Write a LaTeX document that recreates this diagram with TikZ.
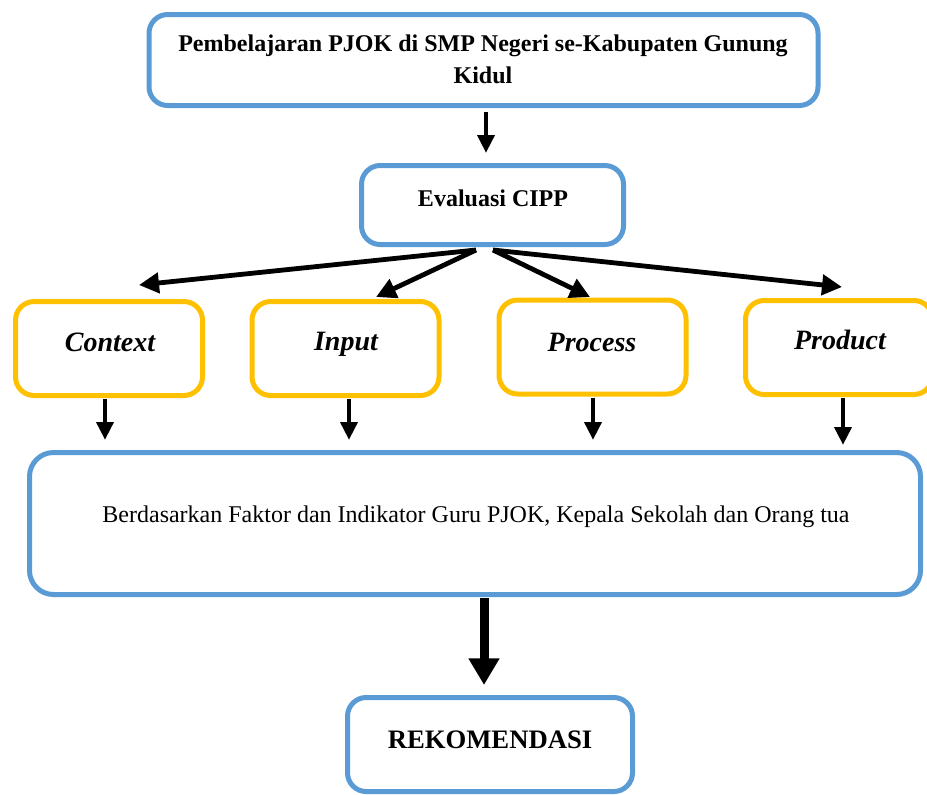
\documentclass[tikz,border=0pt]{standalone}
\usepackage{fontspec}
\setmainfont{Liberation Serif}
\usetikzlibrary{arrows.meta,calc}
\definecolor{boxblue}{HTML}{5B9BD5}
\definecolor{boxgold}{HTML}{FFC000}
\begin{document}
\begin{tikzpicture}[x=0.75pt,y=-0.75pt,
  bluebox/.style={draw=boxblue, line width=3.75pt, rounded corners=14pt, inner sep=0pt, outer sep=0pt},
  goldbox/.style={draw=boxgold, line width=3.75pt, rounded corners=14pt, inner sep=0pt, outer sep=0pt,
    minimum width=140.25pt, minimum height=70.5pt},
  lbl/.style={inner sep=0pt, font=\fontsize{18}{24}\selectfont\bfseries},
  clbl/.style={inner sep=0pt, font=\fontsize{21}{24}\selectfont\bfseries\itshape},
  fanarr/.style={line width=3.6pt, -{Triangle[length=15pt,width=15pt]}},
  varr/.style={line width=3.6pt, -{Triangle[length=13.5pt,width=12.5pt]}},
  bigarr/.style={line width=6.75pt, -{Triangle[length=20pt,width=22pt]}}]
\useasboundingbox (0,0) rectangle (927,794);
% boxes
\node[bluebox, minimum width=501.75pt, minimum height=68.25pt] (top) at (483.5,60) {};
\node[bluebox, minimum width=196.5pt, minimum height=59.25pt] (eval) at (492.5,205) {};
\node[goldbox] (ctx) at (109,348.5) {};
\node[goldbox] (inp) at (345.5,348.5) {};
\node[goldbox] (proc) at (592.5,347) {};
\node[goldbox] (prod) at (839,347.5) {};
\node[bluebox, rounded corners=18pt, minimum width=668.25pt, minimum height=106.5pt] (big) at (475,523.5) {};
\node[bluebox, minimum width=213.75pt, minimum height=70.5pt] (rek) at (490,744.5) {};
% texts
\node[lbl, align=center] (ttop) at (483,59) {Pembelajaran PJOK di SMP Negeri se-Kabupaten Gunung\\Kidul};
\node[lbl] (teval) at (493,198) {Evaluasi CIPP};
\node[clbl] (tctx) at (110,342) {Context};
\node[clbl] (tinp) at (346,344) {Input};
\node[clbl] (tproc) at (592,342) {Process};
\node[clbl] (tprod) at (840,340) {Product};
\node[inner sep=0pt, font=\fontsize{18}{24}\selectfont] (tbig) at (476,517) {Berdasarkan Faktor dan Indikator Guru PJOK, Kepala Sekolah dan Orang tua};
\node[inner sep=0pt, font=\fontsize{20}{24}\selectfont\bfseries] (trek) at (490,740) {REKOMENDASI};
% connectors
\draw[varr] ($(top.south)+(2.5,6.5)$) -- ($(eval.north)+(-6.5,-12.5)$);
\draw[fanarr] ($(eval.south)+(-16.5,5.5)$) -- ($(ctx.north)+(30,-16.5)$);
\draw[fanarr] ($(eval.south)+(-16.5,5.5)$) -- ($(inp.north)+(30.5,-4.5)$);
\draw[fanarr] ($(eval.south)+(0.5,5.5)$) -- ($(proc.north)+(-2.5,-3)$);
\draw[fanarr] ($(eval.south)+(0.5,5.5)$) -- ($(prod.north)+(3,-13.5)$);
\draw[varr] ($(ctx.south)+(-4,3.5)$) -- ($(ctx.south |- big.north)+(-4,-12.5)$);
\draw[varr] ($(inp.south)+(3.5,3.5)$) -- ($(inp.south |- big.north)+(3.5,-12.5)$);
\draw[varr] ($(proc.south)+(0.5,3.5)$) -- ($(proc.south |- big.north)+(0.5,-12.5)$);
\draw[varr] ($(prod.south)+(4,3.5)$) -- ($(prod.south |- big.north)+(4,-7.5)$);
\draw[bigarr] ($(big.south)+(9,3.5)$) -- ($(rek.north)+(-6,-12.5)$);
\end{tikzpicture}
\end{document}
